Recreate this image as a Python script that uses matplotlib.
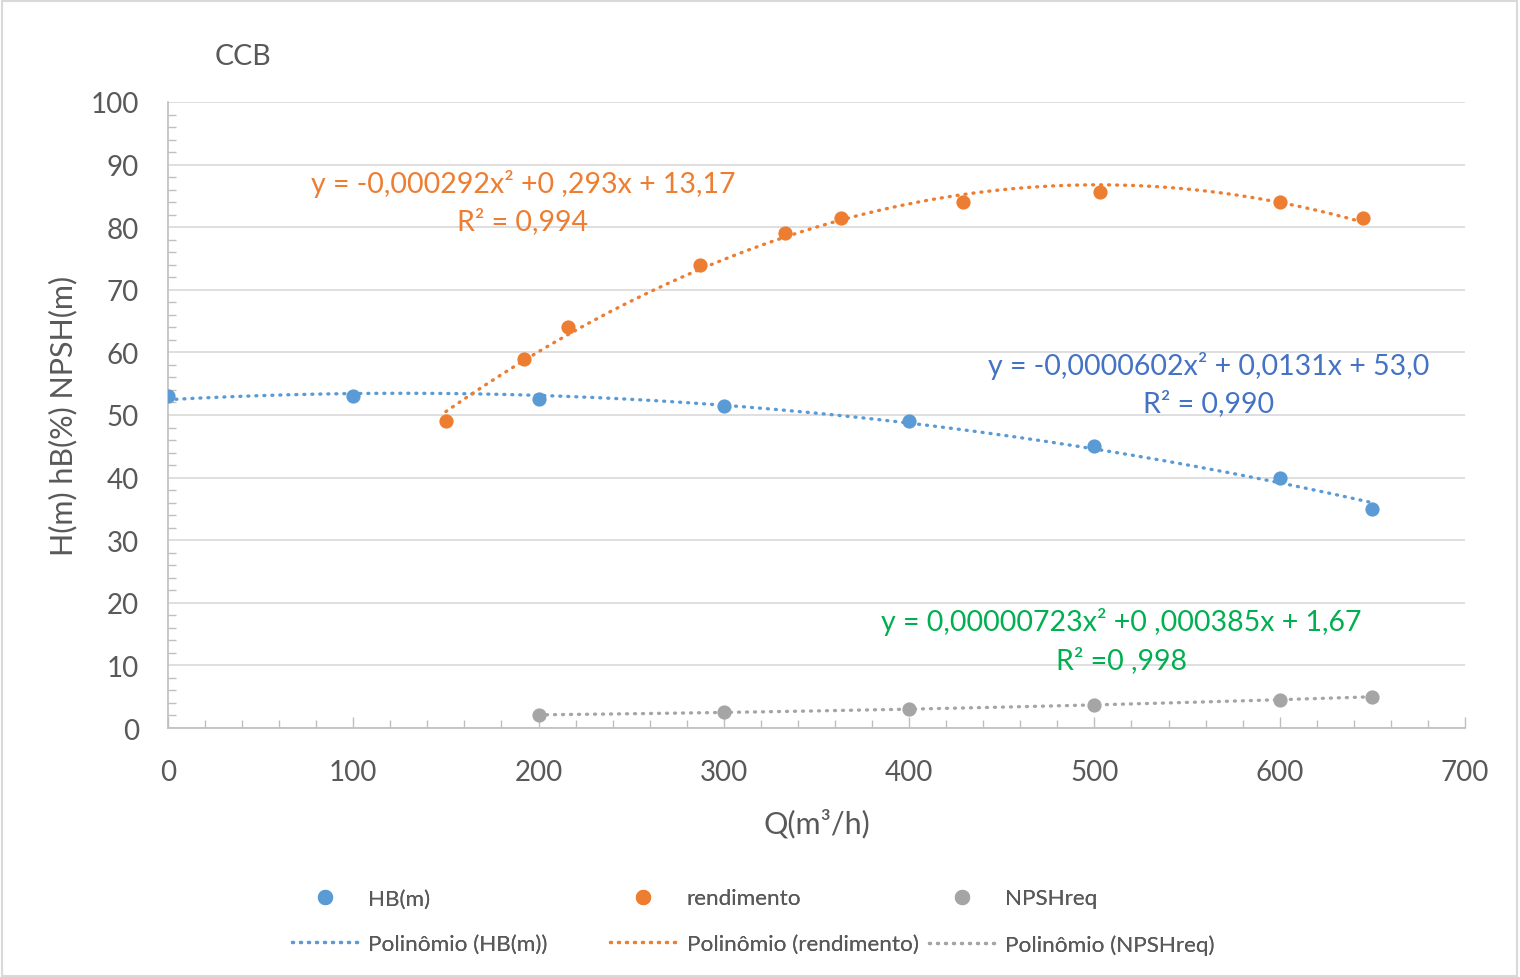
import numpy as np
import matplotlib
matplotlib.use("Agg")
import matplotlib.pyplot as plt
from matplotlib.lines import Line2D
from matplotlib.patches import Rectangle
from matplotlib.ticker import MultipleLocator

plt.rcParams["font.family"] = ["Lato", "DejaVu Sans"]

# data
hb_q = [0, 100, 200, 300, 400, 500, 600, 650]
hb_h = [53.0, 53.0, 52.5, 51.5, 49.0, 45.0, 40.0, 35.0]

rend_q = [150, 192, 216, 287, 333, 363, 429, 503, 600, 645]
rend_eta = [49.0, 59.0, 64.0, 74.0, 79.0, 81.5, 84.0, 85.6, 84.0, 81.5]

npsh_q = [200, 300, 400, 500, 600, 650]
npsh_h = [2.1, 2.5, 3.0, 3.7, 4.5, 5.0]

eq_rend = ["y = -0,000292x² +0 ,293x + 13,17", "R² = 0,994"]
eq_hb = ["y = -0,0000602x² + 0,0131x + 53,0", "R² = 0,990"]
eq_npsh = ["y = 0,00000723x² +0 ,000385x + 1,67", "R² =0 ,998"]

BLUE = "#5B9BD5"
ORANGE = "#ED7D31"
GRAY = "#A5A5A5"
TXT = "#595959"
DOTS = (0, (0.3, 2.1))

fig = plt.figure(figsize=(15.2, 9.78), dpi=100)
fig.patches.append(Rectangle((0.001, 0.001), 0.997, 0.997, transform=fig.transFigure,
                             fill=False, edgecolor="#D9D9D9", linewidth=1.5))
ax = fig.add_axes([0.1105, 0.2546, 0.8533, 0.6401])


def trend(ax, q, v, color):
    coef = np.polyfit(q, v, 2)
    xs = np.linspace(min(q), max(q), 200)
    ax.plot(xs, np.polyval(coef, xs), color=color, linestyle=DOTS, linewidth=2.4,
            dash_capstyle="round", zorder=2)


for q, v, c in [(hb_q, hb_h, BLUE), (rend_q, rend_eta, ORANGE), (npsh_q, npsh_h, GRAY)]:
    trend(ax, q, v, c)
    ax.scatter(q, v, s=105, color=c, zorder=3, linewidths=0)

ax.set_xlim(0, 700)
ax.set_ylim(0, 100)
ax.xaxis.set_major_locator(MultipleLocator(100))
ax.xaxis.set_minor_locator(MultipleLocator(20))
ax.yaxis.set_major_locator(MultipleLocator(10))
ax.yaxis.set_minor_locator(MultipleLocator(2))
ax.grid(True, axis="y", which="major", color="#D9D9D9", linewidth=1.2)
ax.set_axisbelow(True)
for s in ["top", "right"]:
    ax.spines[s].set_visible(False)
for s in ["left", "bottom"]:
    ax.spines[s].set_color("#BFBFBF")
    ax.spines[s].set_linewidth(1.2)
ax.tick_params(axis="both", which="both", direction="in", color="#BFBFBF", width=1.0,
               labelcolor=TXT, labelsize=20)
ax.tick_params(axis="x", which="major", length=8, pad=22)
ax.tick_params(axis="x", which="minor", length=6)
ax.tick_params(axis="y", which="major", length=0, pad=21)
ax.tick_params(axis="y", which="minor", length=6)

ax.set_xlabel("Q(m³/h)", fontsize=22, color=TXT, labelpad=17)
ax.set_ylabel("H(m) hB(%) NPSH(m)", fontsize=22, color=TXT, labelpad=9)
fig.text(0.16, 0.942, "CCB", fontsize=20.5, color=TXT, ha="center", va="center")

for lines, x, y, color in [(eq_rend, 0.344, 0.812, ORANGE),
                           (eq_hb, 0.795, 0.626, "#4472C4"),
                           (eq_npsh, 0.7375, 0.364, "#00B050")]:
    fig.text(x, y, lines[0], fontsize=20.5, color=color, ha="center", va="center")
    fig.text(x, y - 0.039, lines[1], fontsize=20.5, color=color, ha="center", va="center")

# legend, one block per series so the columns sit at fixed positions
for i, (name, c) in enumerate([("HB(m)", BLUE), ("rendimento", ORANGE), ("NPSHreq", GRAY)]):
    handles = [Line2D([], [], marker="o", linestyle="none", color=c, markersize=10),
               Line2D([], [], color=c, linestyle=DOTS, linewidth=2.4, dash_capstyle="round")]
    labels = [name, "Polinômio (%s)" % name]
    leg = fig.legend(handles, labels, loc="upper left",
                     bbox_to_anchor=(0.192 + i * 0.2095, 0.0905), frameon=False,
                     fontsize=16.2, labelcolor=TXT, handlelength=2.95, handletextpad=0.45,
                     labelspacing=1.13, borderpad=0.0, borderaxespad=0.0)
    fig.add_artist(leg)

fig.savefig("out.png", dpi=100)
